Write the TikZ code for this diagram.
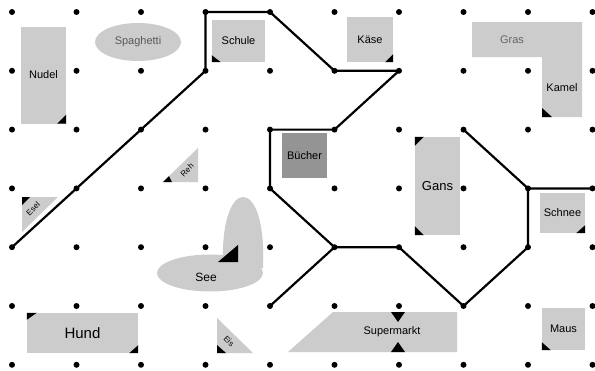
\documentclass[tikz,border=0pt]{standalone}
\usepackage{fontspec}
\setmainfont{Liberation Sans}
\usetikzlibrary{shapes.geometric}
\begin{document}
\begin{tikzpicture}[x=1pt,y=-1pt,
  route/.style={line width=2.2pt,line join=round,line cap=round},
  dotmark/.style={fill=black},
  card/.style={fill=black!20,inner sep=0pt,font=\fontsize{11}{12}\selectfont},
  darkcard/.style={fill=black!42,inner sep=0pt,font=\fontsize{11}{12}\selectfont},
  blob/.style={fill=black!20,draw=none},
  tip/.style={fill=black}]
\useasboundingbox (0,0) rectangle (595,370);
\fill[white] (0,0) rectangle (595,370);
% grid points
\foreach \i in {0,...,9}{\foreach \j in {0,...,6}{
  \coordinate (p\i\j) at ({12+64.5*\i},{12+58.8*\j});}}
% labels
\node[card,minimum width=45pt,minimum height=97pt] (nudel) at (43.5,75) {Nudel};
\fill[tip] (nudel.south east) -- ++(-9,0) -- ++(9,-9) -- cycle;
\node[ellipse,card,minimum width=86pt,minimum height=38pt,text=black!65] (spag) at (138,42) {Spaghetti};
\node[card,minimum width=53pt,minimum height=42pt] (schule) at (238.5,41) {Schule};
\fill[tip] (schule.south west) -- ++(9,0) -- ++(-9,-7) -- cycle;
\node[card,minimum width=46pt,minimum height=45pt] (kaese) at (370,39.5) {Käse};
\fill[tip] (kaese.south east) -- ++(-8,0) -- ++(8,-8) -- cycle;
\fill[blob] (472,22) -- (582,22) -- (582,117) -- (542,117) -- (542,57) -- (472,57) -- cycle;
\node[text=black!60,font=\fontsize{11}{12}\selectfont] (gras) at (512,40) {Gras};
\node[font=\fontsize{11}{12}\selectfont] (kamel) at (562,88) {Kamel};
\fill[tip] (542,117) -- (552,117) -- (542,108) -- cycle;
\node[darkcard,minimum width=45pt,minimum height=45pt] (buch) at (304.5,155.5) {Bücher};
\node[card,minimum width=45pt,minimum height=98pt,font=\fontsize{13}{14}\selectfont] (gans) at (437.5,186) {Gans};
\fill[tip] (gans.north west) -- ++(9,0) -- ++(-9,9) -- cycle;
\fill[tip] (gans.south west) -- ++(9,0) -- ++(-9,-9) -- cycle;
\node[card,minimum width=45pt,minimum height=40pt] (schnee) at (562.5,213) {Schnee};
\fill[tip] (schnee.south east) -- ++(-9,0) -- ++(9,-8) -- cycle;
% triangles
\fill[blob] (163,182) -- (198,148) -- (198,182) -- cycle;
\fill[tip] (163,182) -- (172,182) -- (169,176) -- cycle;
\node[rotate=45,font=\fontsize{8}{9}\selectfont] (reh) at (187,170) {Reh};
\fill[blob] (22,197) -- (58,197) -- (22,232) -- cycle;
\fill[tip] (22,197) -- (30,197) -- (22,205) -- cycle;
\node[rotate=45,font=\fontsize{8}{9}\selectfont] (esel) at (33,209) {Esel};
\fill[blob] (217,318) -- (217,353) -- (253,353) -- cycle;
\fill[tip] (217,353) -- (226,353) -- (217,345) -- cycle;
\node[rotate=-45,font=\fontsize{8}{9}\selectfont] (eis) at (229,341) {Eis};
% See
\fill[blob] (223,268) .. controls (221,215) and (234,197) .. (243,197) .. controls (255,197) and (265,222) .. (263,268) -- cycle;
\node[ellipse,blob,minimum width=106pt,minimum height=37pt] (see) at (210,273) {};
\node[font=\fontsize{12}{13}\selectfont] (seetext) at (206,277) {See};
\fill[tip] (218,262) -- (238,245) -- (238,262) -- cycle;
% Hund
\node[card,minimum width=111pt,minimum height=40pt,font=\fontsize{15}{16}\selectfont] (hund) at (82.5,333) {Hund};
\fill[tip] (hund.north west) -- ++(10,0) -- ++(-10,7) -- cycle;
\fill[tip] (hund.south east) -- ++(-9,0) -- ++(9,-8) -- cycle;
% Supermarkt
\fill[blob] (288,352) -- (333,312) -- (457,312) -- (457,352) -- cycle;
\node[font=\fontsize{11}{12}\selectfont] (super) at (392,332) {Supermarkt};
\fill[tip] (391,312) -- (405,312) -- (398,322) -- cycle;
\fill[tip] (391,352) -- (405,352) -- (398,342) -- cycle;
% Maus
\node[card,minimum width=43pt,minimum height=42pt] (maus) at (563.5,329) {Maus};
\fill[tip] (maus.south west) -- ++(9,0) -- ++(-9,-8) -- cycle;
% routes
\draw[route] (p04) -- (p13) -- (p22) -- (p31) -- (p30) -- (p40) -- (p51) -- (p61)
  -- (p52) -- (p42) -- (p43) -- (p54) -- (p64) -- (p75) -- (p84) -- (p83) -- (p93);
\draw[route] (p83) -- (p72);
\draw[route] (p54) -- (p45);
% dots
\foreach \i in {0,...,9}{\foreach \j in {0,...,6}{
  \fill[dotmark] (p\i\j) circle (3pt);}}
\end{tikzpicture}
\end{document}
